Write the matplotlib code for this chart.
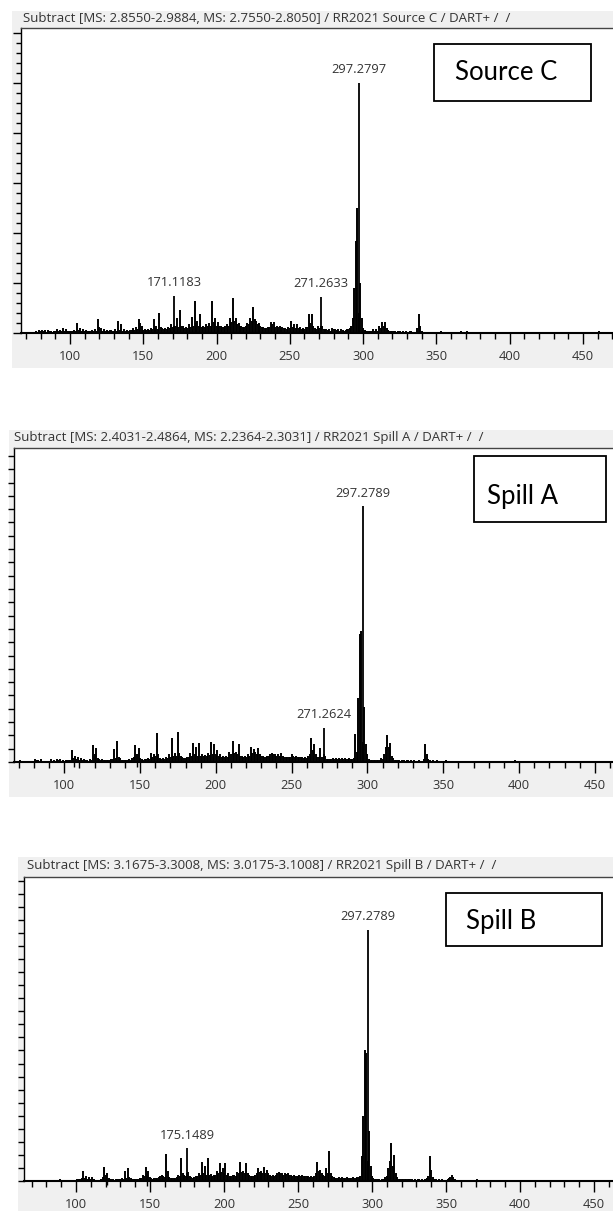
import numpy as np
import matplotlib.pyplot as plt
from matplotlib.patches import Rectangle
from matplotlib.ticker import MultipleLocator

# DART+ mass spectra, three subtracted scans (relative intensity, %)
W, H = 613, 1211

mz_start = 70  # first integer m/z of the peak lists below

# Source C, one value per integer m/z from 70 upward
int_c = [
    0.3, 0.4, 0.3, 0.5, 0.4, 0.6, 0.5, 1.0, 0.6, 1.2,
    0.8, 1.3, 0.7, 1.1, 0.6, 1.2, 0.8, 0.7, 0.5, 0.8,
    0.7, 1.5, 0.9, 1.2, 0.8, 2.2, 1.0, 1.6, 0.8, 0.9,
    0.7, 1.0, 0.8, 1.1, 0.9, 4.0, 1.2, 2.0, 1.0, 1.5,
    0.8, 1.2, 0.7, 1.0, 0.8, 1.3, 0.9, 1.6, 1.0, 5.7,
    2.5, 2.0, 1.0, 1.5, 0.9, 1.2, 0.8, 1.1, 1.3, 1.0,
    0.9, 1.5, 1.0, 4.9, 1.2, 3.5, 1.0, 1.6, 0.9, 1.2,
    1.0, 1.3, 1.1, 2.0, 1.2, 2.5, 1.5, 5.7, 4.0, 3.0,
    1.2, 1.8, 1.1, 1.6, 1.3, 2.2, 1.5, 5.7, 2.0, 3.0,
    1.8, 8.1, 2.5, 2.0, 1.5, 2.0, 1.8, 2.5, 2.0, 3.5,
    2.5, 3.0, 3.0, 6.0, 2.5, 9.3, 3.0, 3.0, 2.2, 2.5,
    2.0, 3.5, 2.5, 6.5, 3.0, 12.7, 4.0, 5.0, 3.0, 7.7,
    2.5, 3.0, 2.5, 3.5, 2.8, 4.0, 3.0, 12.7, 4.5, 6.0,
    3.0, 4.5, 2.8, 3.0, 2.5, 2.5, 2.8, 3.5, 3.0, 6.0,
    4.5, 14.0, 5.0, 6.0, 3.5, 4.0, 3.0, 3.0, 2.5, 2.5,
    3.0, 4.0, 3.5, 6.0, 5.0, 10.4, 5.5, 5.0, 3.5, 4.0,
    3.0, 2.5, 2.5, 2.0, 2.2, 2.5, 2.5, 4.5, 3.5, 4.5,
    2.5, 3.0, 2.5, 3.0, 2.2, 2.5, 2.0, 2.0, 1.8, 2.5,
    2.0, 5.0, 2.5, 3.5, 2.2, 3.5, 2.0, 2.5, 1.8, 2.0,
    1.8, 2.5, 2.5, 7.7, 4.0, 7.7, 3.0, 2.0, 1.8, 3.0,
    2.0, 3.0, 3.0, 1.5, 1.2, 1.5, 1.2, 1.5, 1.0, 2.0,
    1.5, 1.5, 1.2, 1.5, 1.0, 1.5, 1.2, 1.0, 1.2, 1.5,
    1.5, 2.0, 3.0, 6.0, 18.0, 37.0, 50.0, 8.0, 20.0, 6.0,
    2.0, 1.2, 0.8, 1.0, 0.8, 0.7, 0.8, 1.5, 0.8, 1.5,
    1.0, 3.0, 2.0, 4.4, 3.0, 4.4, 2.0, 1.2, 0.8, 1.0,
    0.8, 1.0, 0.7, 0.6, 0.8, 0.8, 0.6, 0.7, 0.5, 0.8,
    0.6, 0.5, 0.7, 0.8, 0.5, 0.6, 0.5, 2.0, 7.7, 3.0,
    1.0, 0.6, 0.5, 0.5, 0.4, 0.5, 0.4, 0.5, 0.4, 0.5,
    0.4, 0.3, 0.5, 0.8, 0.4, 0.3, 0.5, 0.6, 0.3, 0.4,
    0.5, 0.4, 0.3, 0.6, 0.4, 0.3, 0.5, 0.7, 0.4, 0.3,
    0.6, 0.8, 0.4, 0.3, 0.5, 0.4, 0.3, 0.3, 0.4, 0.3,
    0.3, 0.4, 0.3, 0.5, 0.3, 0.0, 0.3, 0.4, 0.0, 0.3,
    0.4, 0.5, 0.3, 0.0, 0.3, 0.4, 0.3, 0.0, 0.5, 0.0,
    0.3, 0.0, 0.4, 0.0, 0.3, 0.5, 0.0, 0.3, 0.0, 0.4,
    0.0, 0.3, 0.0, 0.5, 0.0, 0.0, 0.4, 0.0, 0.3, 0.5,
    0.0, 0.3, 0.0, 0.4, 0.0, 0.5, 0.0, 0.0, 0.3, 0.0,
    0.4, 0.0, 0.5, 0.0, 0.0, 0.3, 0.0, 0.4, 0.0, 0.0,
    0.3, 0.0, 0.0, 0.4, 0.0, 0.0, 0.3, 0.5, 0.0, 0.0,
    0.0, 0.3, 0.0, 0.0, 0.4, 0.0, 0.0, 0.3, 0.0, 0.0,
    0.3, 1.0, 0.0, 0.0, 0.3, 0.0, 0.0, 0.0, 0.0, 0.0,
]
lab_mz_c = [171.1183, 271.2633, 297.2797]
lab_int_c = [14.9, 14.5, 100.0]

# Spill A
int_a = [
    0.0, 0.6, 0.0, 0.0, 0.0, 0.0, 0.0, 0.3, 0.4, 0.3,
    0.5, 1.2, 0.8, 0.6, 0.4, 1.0, 0.5, 0.4, 0.3, 0.5,
    0.4, 1.1, 0.5, 0.8, 0.4, 1.3, 0.7, 1.0, 0.5, 0.6,
    0.5, 0.8, 0.6, 0.7, 0.9, 4.5, 1.5, 2.5, 1.2, 2.0,
    0.8, 1.5, 0.7, 1.0, 0.6, 0.8, 0.5, 1.0, 0.8, 6.5,
    3.0, 5.6, 1.5, 1.2, 0.8, 1.0, 0.9, 0.8, 0.7, 0.8,
    0.8, 1.0, 1.2, 4.9, 1.5, 8.4, 2.0, 1.5, 0.8, 0.9,
    0.7, 0.9, 0.8, 1.2, 0.9, 1.5, 2.0, 6.6, 3.0, 5.6,
    1.5, 1.0, 0.8, 1.2, 1.0, 1.5, 1.2, 3.5, 2.0, 3.0,
    2.5, 11.2, 3.0, 1.5, 1.2, 1.5, 1.0, 1.8, 1.5, 3.0,
    2.0, 9.2, 2.5, 3.5, 2.5, 11.7, 3.5, 2.5, 1.8, 1.5,
    1.5, 2.0, 1.8, 3.5, 2.5, 7.5, 3.0, 6.0, 2.5, 7.5,
    2.5, 3.0, 2.2, 2.8, 2.5, 3.5, 2.8, 7.9, 3.0, 6.9,
    3.0, 4.5, 2.5, 3.0, 2.0, 2.2, 2.0, 2.5, 2.0, 4.0,
    3.0, 8.4, 3.5, 4.0, 3.0, 6.9, 2.5, 2.5, 2.0, 2.2,
    2.0, 3.0, 2.5, 5.8, 3.5, 5.0, 4.0, 3.0, 5.6, 3.0,
    2.5, 2.2, 2.0, 2.0, 2.5, 2.5, 3.0, 3.5, 3.0, 3.0,
    2.5, 3.0, 2.5, 3.5, 2.5, 2.0, 1.8, 2.0, 1.8, 2.0,
    3.0, 2.5, 2.0, 2.5, 2.0, 2.0, 1.8, 2.0, 1.5, 1.8,
    1.5, 2.5, 3.0, 9.2, 4.5, 6.9, 3.0, 2.0, 1.8, 5.6,
    2.0, 3.0, 2.5, 1.2, 1.0, 1.2, 1.0, 1.5, 1.0, 1.5,
    1.2, 1.5, 1.0, 1.5, 1.2, 1.5, 1.0, 1.2, 1.5, 1.0,
    1.2, 1.5, 11.0, 4.0, 25.0, 50.0, 51.0, 8.0, 21.5, 7.0,
    3.0, 1.2, 0.8, 0.7, 0.8, 0.6, 0.7, 0.8, 0.6, 1.5,
    1.2, 3.0, 6.0, 10.4, 6.0, 7.5, 2.5, 1.5, 0.8, 0.7,
    0.6, 0.7, 0.5, 0.6, 0.8, 0.5, 0.6, 0.7, 0.5, 0.6,
    0.5, 0.6, 0.4, 0.5, 0.6, 0.4, 0.5, 1.0, 7.1, 3.0,
    1.0, 0.6, 0.5, 0.6, 0.4, 0.5, 0.6, 0.4, 0.5, 0.4,
    0.5, 0.4, 0.6, 0.4, 0.5, 0.4, 0.5, 0.3, 0.4, 0.5,
    0.4, 0.5, 0.3, 0.4, 0.5, 0.4, 0.3, 0.5, 0.4, 0.3,
    0.5, 0.4, 0.3, 0.5, 0.4, 0.3, 0.0, 0.0, 0.4, 0.0,
    0.3, 0.4, 0.3, 0.4, 0.0, 0.0, 0.0, 0.0, 0.0, 0.0,
    0.0, 0.0, 0.0, 0.0, 0.0, 0.0, 0.3, 0.8, 0.4, 0.0,
    0.0, 0.0, 0.0, 0.0, 0.0, 0.0, 0.0, 0.0, 0.0, 0.0,
    0.0, 0.0, 0.0, 0.0, 0.0, 0.4, 0.0, 0.0, 0.0, 0.0,
]
lab_mz_a = [271.2624, 297.2789]
lab_int_a = [13.3, 100.0]
neg_mz_a = [106.6, 148.0]
neg_int_a = [-1.8, -1.8]

# Spill B
int_b = [
    0.0, 0.0, 0.0, 0.0, 0.0, 0.0, 0.0, 0.0, 0.0, 0.4,
    0.3, 0.4, 0.0, 0.3, 0.0, 0.0, 0.5, 0.4, 0.0, 0.6,
    0.5, 0.4, 0.3, 0.0, 0.4, 0.3, 0.5, 0.0, 0.3, 0.4,
    0.5, 0.8, 0.6, 0.8, 1.0, 3.8, 1.2, 2.0, 0.8, 1.5,
    0.8, 1.5, 0.6, 0.5, 0.3, 0.4, 0.5, 0.8, 1.5, 5.4,
    2.5, 3.0, 1.0, 0.8, 0.6, 0.7, 0.5, 0.8, 0.6, 0.7,
    0.8, 1.0, 0.9, 4.0, 1.2, 5.0, 1.5, 1.0, 0.7, 0.8,
    0.8, 0.6, 0.9, 1.0, 1.2, 2.5, 2.0, 5.4, 3.0, 4.0,
    1.5, 1.2, 0.8, 1.0, 1.0, 1.2, 1.5, 2.0, 2.5, 2.0,
    1.5, 10.8, 4.0, 1.5, 1.0, 1.2, 1.0, 1.2, 1.5, 2.5,
    2.0, 9.0, 3.0, 2.5, 2.0, 3.0, 3.5, 2.0, 1.5, 1.2,
    1.5, 2.0, 1.8, 3.0, 2.5, 7.6, 3.0, 6.0, 2.5, 9.0,
    2.5, 2.8, 2.0, 2.5, 2.2, 4.0, 3.0, 7.3, 3.5, 5.0,
    3.0, 7.3, 2.5, 3.0, 2.0, 2.0, 2.2, 2.5, 2.0, 3.5,
    3.0, 7.6, 3.5, 4.0, 3.0, 7.1, 3.0, 2.5, 2.0, 2.0,
    2.0, 2.5, 3.0, 5.0, 3.5, 4.0, 3.0, 5.5, 3.0, 4.5,
    3.0, 2.5, 2.0, 2.5, 2.0, 2.5, 3.0, 3.5, 3.0, 3.0,
    2.5, 3.0, 2.8, 3.0, 2.5, 2.5, 2.0, 2.5, 2.0, 2.0,
    2.0, 2.5, 2.0, 2.2, 2.0, 2.0, 1.8, 2.0, 1.5, 1.8,
    1.5, 2.0, 3.0, 7.6, 4.0, 4.5, 3.0, 2.5, 2.0, 5.2,
    3.0, 12.0, 3.0, 2.0, 1.5, 1.2, 1.0, 1.2, 1.5, 1.2,
    1.5, 1.2, 1.0, 1.5, 1.2, 1.0, 1.2, 1.5, 1.0, 1.2,
    1.5, 1.5, 2.0, 10.0, 26.0, 52.0, 51.0, 8.0, 20.0, 6.0,
    2.0, 1.0, 0.8, 0.6, 0.7, 0.6, 0.5, 0.6, 0.7, 1.5,
    2.0, 5.0, 8.0, 15.0, 6.0, 10.3, 3.0, 1.5, 0.8, 0.7,
    0.8, 0.6, 0.9, 0.7, 0.6, 0.8, 0.7, 0.6, 0.5, 0.6,
    0.5, 0.7, 0.6, 0.5, 0.6, 0.5, 0.8, 1.0, 2.0, 9.9,
    4.5, 1.5, 0.8, 0.6, 0.5, 0.6, 0.5, 0.6, 0.4, 0.5,
    0.5, 0.6, 1.0, 1.5, 2.3, 1.5, 0.8, 0.5, 0.4, 0.4,
    0.4, 0.3, 0.5, 0.4, 0.3, 0.4, 0.5, 0.4, 0.3, 0.4,
    0.5, 0.8, 0.3, 0.0, 0.0, 0.0, 0.0, 0.0, 0.0, 0.0,
    0.0, 0.0, 0.3, 0.3, 0.0, 0.0, 0.0, 0.0, 0.0, 0.3,
    0.0, 0.0, 0.0, 0.0, 0.0, 0.0, 0.0, 0.0, 0.3, 0.0,
    0.3, 0.0, 0.0, 0.0, 0.0, 0.0, 0.0, 0.0, 0.0, 0.0,
    0.3, 0.0, 0.0, 0.0, 0.0, 0.0, 0.0, 0.0, 0.0, 0.0,
]
lab_mz_b = [175.1489, 297.2789]
lab_int_b = [13.1, 100.0]
neg_mz_b = [121.0, 148.0]
neg_int_b = [-1.5, -2.0]

titles = [
    "Subtract [MS: 2.8550-2.9884, MS: 2.7550-2.8050] / RR2021 Source C / DART+ /  /",
    "Subtract [MS: 2.4031-2.4864, MS: 2.2364-2.3031] / RR2021 Spill A / DART+ /  /",
    "Subtract [MS: 3.1675-3.3008, MS: 3.0175-3.1008] / RR2021 Spill B / DART+ /  /",
]
sample_names = ["Source C", "Spill A", "Spill B"]

# pixel layout of the three screenshots
panels = [
    dict(gray=(12, 11, 613, 368), title=(23, 19), ax=(21, 28, 613, 333), xlim=(66.6, 470.5),
         ymax=122.0, ystep=(20, 4), box=(434, 44, 591, 101), boxtxt=(455, 72),
         ints=int_c, lab=(lab_mz_c, lab_int_c), neg=None),
    dict(gray=(9, 430, 613, 797), title=(14, 438), ax=(14, 448, 613, 762), xlim=(66.9, 461.9),
         ymax=122.7, ystep=(5.2, 5.2), box=(474, 456, 606, 522), boxtxt=(487, 496),
         ints=int_a, lab=(lab_mz_a, lab_int_a), neg=(neg_mz_a, neg_int_a)),
    dict(gray=(18, 857, 613, 1211), title=(27, 865), ax=(24, 877, 613, 1181), xlim=(64.9, 462.8),
         ymax=121.1, ystep=(5.2, 5.2), box=(446, 893, 602, 946), boxtxt=(466, 921),
         ints=int_b, lab=(lab_mz_b, lab_int_b), neg=(neg_mz_b, neg_int_b)),
]

plt.rcParams['font.family'] = ['Open Sans', 'DejaVu Sans']
txt_col = '#333333'

fig = plt.figure(figsize=(W / 100, H / 100), dpi=100)
fig.patch.set_facecolor('white')


def fx(x):
    return x / W


def fy(y):
    return 1 - y / H


for i, p in enumerate(panels):
    gx0, gy0, gx1, gy1 = p['gray']
    fig.add_artist(Rectangle((fx(gx0), fy(gy1)), (gx1 - gx0) / W, (gy1 - gy0) / H,
                             transform=fig.transFigure, facecolor='#f0f0f0', edgecolor='none', zorder=0))
    fig.text(fx(p['title'][0]), fy(p['title'][1]), titles[i], fontsize=9.5, color=txt_col,
             ha='left', va='center')

    l, t, r, b = p['ax']
    ax = fig.add_axes([fx(l), fy(b), (r - l) / W, (b - t) / H])
    ax.set_facecolor('white')
    mz = np.arange(mz_start, mz_start + len(p['ints']))
    ax.vlines(mz, 0, p['ints'], color='black', lw=1.4)
    lab_mz, lab_int = p['lab']
    ax.vlines(lab_mz, 0, lab_int, color='black', lw=1.3)
    if p['neg'] is not None:
        ax.vlines(p['neg'][0], 0, p['neg'][1], color='black', lw=1.0, clip_on=False)
    for m, v in zip(lab_mz, lab_int):
        ax.annotate(f"{m:.4f}", xy=(m, v), xytext=(0, 9.4), textcoords='offset points',
                    ha='center', va='center', fontsize=9.3, color=txt_col)

    ax.set_xlim(*p['xlim'])
    ax.set_ylim(0, p['ymax'])
    ax.xaxis.set_major_locator(MultipleLocator(50))
    ax.xaxis.set_minor_locator(MultipleLocator(10))
    ax.yaxis.set_major_locator(MultipleLocator(p['ystep'][0]))
    ax.yaxis.set_minor_locator(MultipleLocator(p['ystep'][1]))
    ax.tick_params(axis='x', which='major', length=8, width=1, pad=4.5, labelsize=9.3,
                   labelcolor=txt_col, direction='out')
    ax.tick_params(axis='x', which='minor', length=4.5, width=1, direction='out')
    ax.tick_params(axis='y', which='major', length=6 if i == 0 else 4, width=1,
                   labelleft=False, direction='out')
    ax.tick_params(axis='y', which='minor', length=3.5, width=1, direction='out')
    ax.spines['right'].set_visible(False)
    ax.spines['top'].set_color('#444444')
    ax.spines['top'].set_linewidth(1)
    ax.spines['left'].set_linewidth(1)
    ax.spines['bottom'].set_linewidth(1.5)

    bx0, by0, bx1, by1 = p['box']
    fig.add_artist(Rectangle((fx(bx0), fy(by1)), (bx1 - bx0) / W, (by1 - by0) / H,
                             transform=fig.transFigure, facecolor='white', edgecolor='black',
                             lw=1.3, zorder=5))
    fig.text(fx(p['boxtxt'][0]), fy(p['boxtxt'][1]), sample_names[i], fontsize=18.5,
             family=['Lato', 'DejaVu Sans'], color='black', ha='left', va='center', zorder=6)

fig.savefig('out.png', dpi=100)
